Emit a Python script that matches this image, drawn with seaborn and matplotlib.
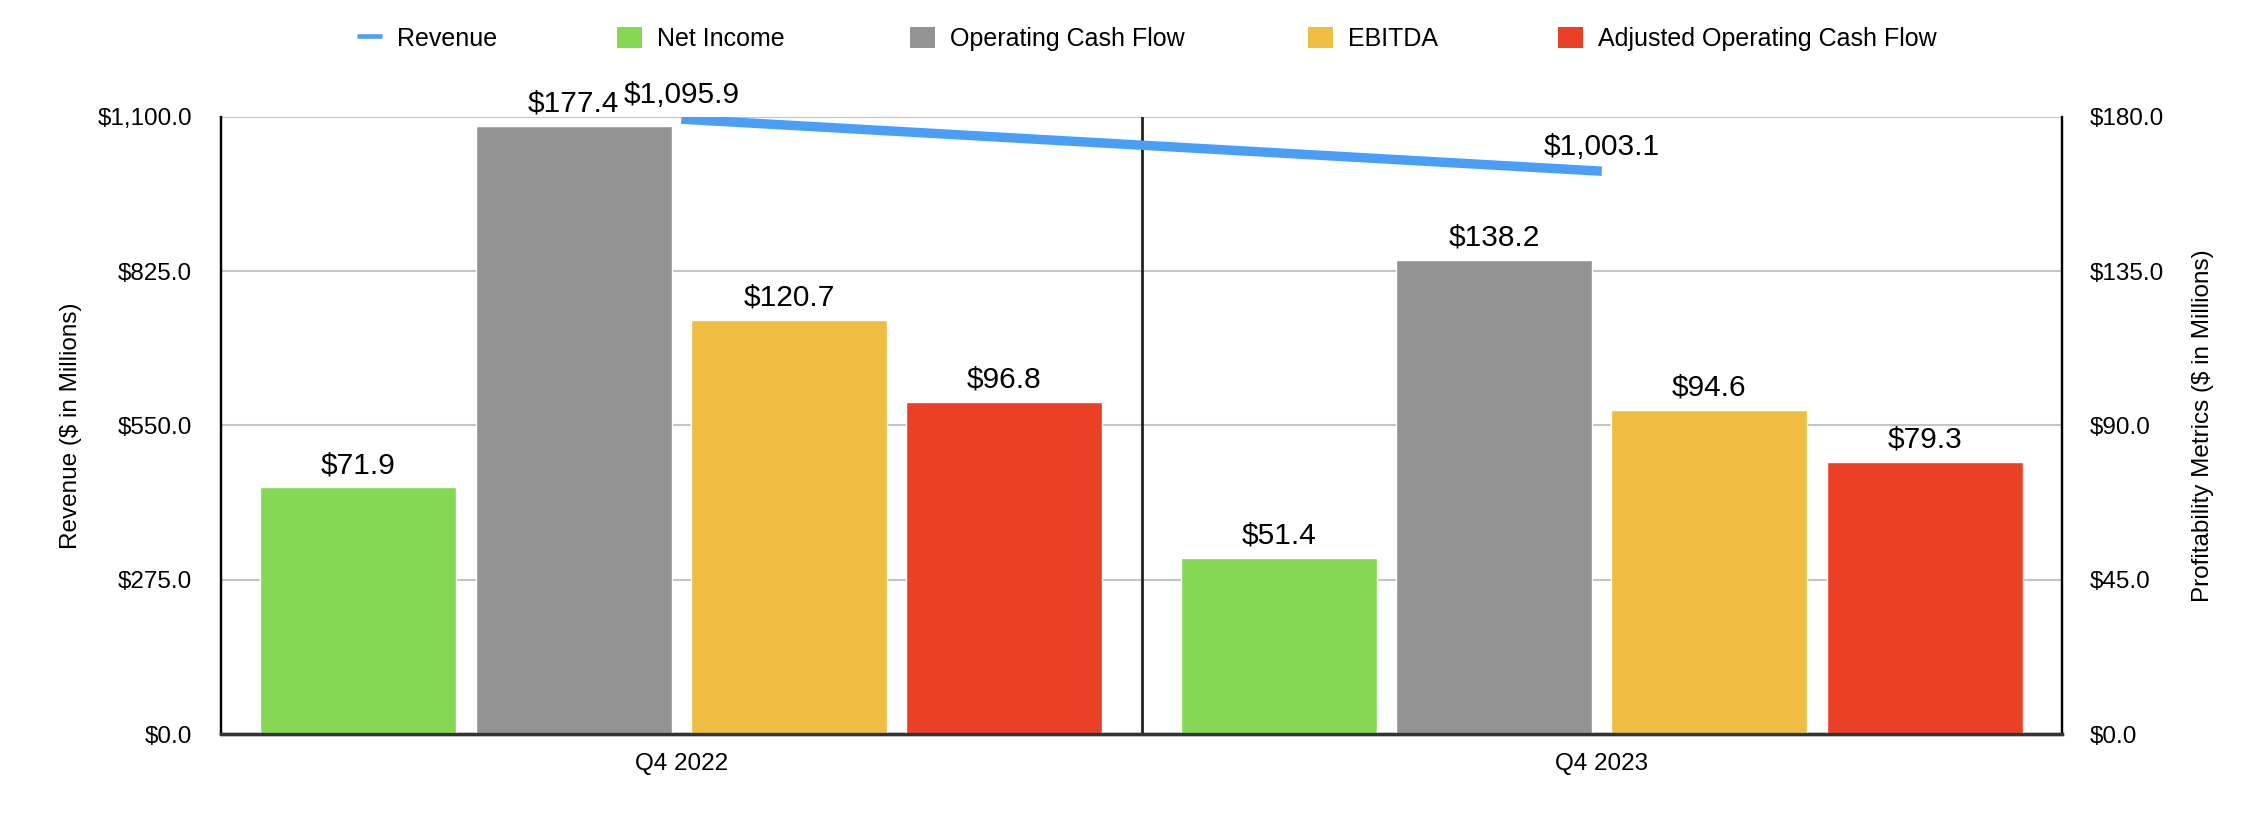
import numpy as np
import pandas as pd
import matplotlib
matplotlib.use('Agg')
import matplotlib.pyplot as plt
import seaborn as sns
from matplotlib.lines import Line2D
from matplotlib.patches import Patch
from matplotlib.ticker import FuncFormatter, MultipleLocator

# Data
quarters = ['Q4 2022', 'Q4 2023']
revenue = [1095.9, 1003.1]
metrics = ['Net Income', 'Operating Cash Flow', 'EBITDA', 'Adjusted Operating Cash Flow']
net_income = [71.9, 51.4]
operating_cf = [177.4, 138.2]
ebitda = [120.7, 94.6]
adjusted_cf = [96.8, 79.3]

colors = ['#84D854', '#939393', '#EEBD42', '#EA4025']
line_color = '#4A9EF5'

df = pd.DataFrame({
    'quarter': quarters * 4,
    'metric': [m for m in metrics for _ in quarters],
    'value': net_income + operating_cf + ebitda + adjusted_cf,
})

sns.set_theme(style='white')
plt.rcParams['font.family'] = ['Liberation Sans', 'DejaVu Sans']
plt.rcParams['text.color'] = 'black'
plt.rcParams['axes.labelcolor'] = 'black'
plt.rcParams['xtick.color'] = 'black'
plt.rcParams['ytick.color'] = 'black'

fig = plt.figure(figsize=(22.58, 8.24), dpi=100)
ax = fig.add_axes([0.0979, 0.1092, 0.8153, 0.749])
ax2 = ax.twinx()

# Bars on the right axis
sns.barplot(data=df, x='quarter', y='value', hue='metric', hue_order=metrics,
            palette=colors, width=0.936, gap=0.09, saturation=1,
            legend=False, ax=ax2, zorder=2)
for cont in ax2.containers:
    ax2.bar_label(cont, labels=['${:,.1f}'.format(v) for v in cont.datavalues],
                  padding=6, fontsize=21.5, color='black')

# Revenue line on the left axis
xpos = np.arange(len(quarters))
sns.lineplot(x=xpos, y=revenue, color=line_color, linewidth=6.8, ax=ax,
             solid_capstyle='butt', zorder=3)
for x, v in zip(xpos, revenue):
    ax.annotate('${:,.1f}'.format(v), (x, v), xytext=(0, 7), textcoords='offset points',
                ha='center', va='bottom', fontsize=21.5, color='black')

ax.set_xlim(-0.5, 1.5)
ax2.set_xlim(-0.5, 1.5)
ax.set_ylim(0, 1100)
ax2.set_ylim(0, 180)
ax.yaxis.set_major_locator(MultipleLocator(275))
ax2.yaxis.set_major_locator(MultipleLocator(45))
ax.yaxis.set_major_formatter(FuncFormatter(lambda v, p: '${:,.1f}'.format(v)))
ax2.yaxis.set_major_formatter(FuncFormatter(lambda v, p: '${:,.1f}'.format(v)))

ax.grid(axis='y', color='#c4c4c4', linewidth=1.5)
ax.grid(axis='x', visible=False)
ax2.grid(False)
ax.set_axisbelow(True)

ax.set_xticks(xpos)
ax.set_xticklabels(quarters)
ax2.set_xticks(xpos)
ax2.set_xticklabels(quarters)
ax2.set_xlabel('')

ax.tick_params(axis='y', length=0, pad=21, labelsize=17.5)
ax2.tick_params(axis='y', length=0, pad=20, labelsize=17.5)
ax.tick_params(axis='x', length=0, pad=14, labelsize=17.5)
ax2.tick_params(axis='x', length=0, pad=14, labelsize=17.5)

ax.set_ylabel('Revenue ($ in Millions)', fontsize=17.5, labelpad=11)
ax2.set_ylabel('Profitability Metrics ($ in Millions)', fontsize=17.5, labelpad=20)

for a in (ax, ax2):
    a.spines['top'].set_visible(False)
    a.spines['left'].set_color('black')
    a.spines['left'].set_linewidth(1.6)
    a.spines['right'].set_color('black')
    a.spines['right'].set_linewidth(1.6)
    a.spines['bottom'].set_color('#333333')
    a.spines['bottom'].set_linewidth(2.4)
ax.axvline(0.5, color='#222222', linewidth=2.0, zorder=1)

# Legend: one entry per legend so each sits where it does in the original
handles = [Line2D([0], [0], color=line_color, linewidth=3.3, solid_capstyle='butt')]
handles += [Patch(facecolor=c, edgecolor='none') for c in colors]
labels = ['Revenue'] + metrics
legend_x = [357, 617, 910, 1308, 1558]
for h, lab, lx in zip(handles, labels, legend_x):
    fig.legend([h], [lab], loc='center left', bbox_to_anchor=(lx / 2258, 0.9527),
               frameon=False, fontsize=18, handlelength=1.0, handleheight=0.96,
               handletextpad=0.6, borderpad=0, borderaxespad=0)

fig.savefig('out.png', dpi=100)
